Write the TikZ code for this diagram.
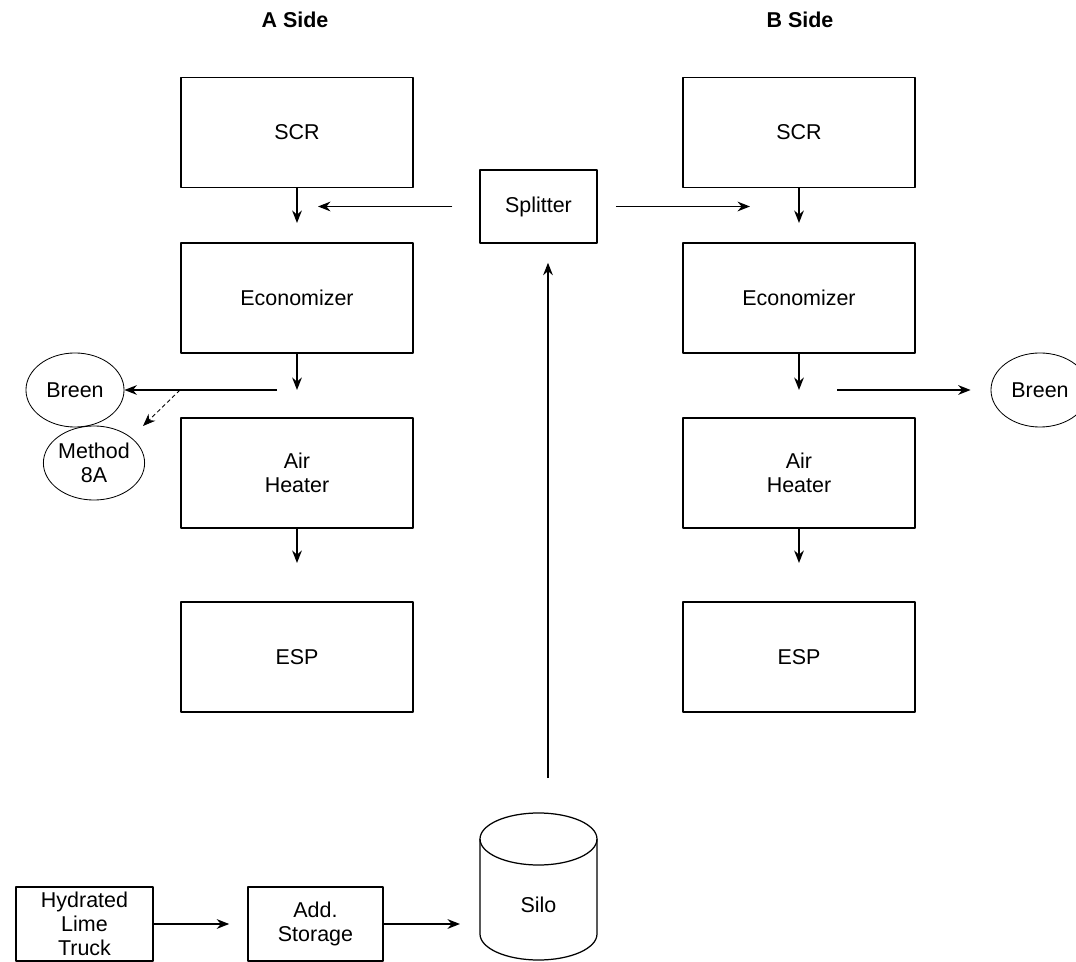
\documentclass[tikz,border=0pt]{standalone}
\usepackage{fontspec}
\setmainfont{Liberation Sans}
\usetikzlibrary{arrows.meta,shapes.geometric}
\tikzset{
  unitbox/.style={draw,line width=1.1pt,minimum width=2.32in,minimum height=1.1in,align=center},
  smallbox/.style={draw,line width=1.1pt,inner sep=0pt,align=center},
  sampler/.style={draw,ellipse,line width=0.6pt,minimum width=0.98in,minimum height=0.74in,inner sep=0pt,align=center},
  flow/.style={->,line width=1.1pt},
}
\begin{document}
\begin{tikzpicture}[x=0.01in,y=0.01in,>={Stealth[length=9pt,width=7pt]},line join=round,font=\fontsize{15.5}{17.5}\selectfont]
\useasboundingbox (0,0) rectangle (1076,961);
% side headings
\node[font=\fontsize{15.5}{17.5}\selectfont\bfseries] (sideA) at (295,941) {A Side};
\node[font=\fontsize{15.5}{17.5}\selectfont\bfseries] (sideB) at (800,941) {B Side};
% A side train
\node[unitbox] (scrA) at (297,828.5) {SCR};
\node[unitbox] (ecoA) at (297,663) {Economizer};
\node[unitbox] (ahA) at (297,488) {Air\\Heater};
\node[unitbox] (espA) at (297,304) {ESP};
% B side train
\node[unitbox] (scrB) at (799,828.5) {SCR};
\node[unitbox] (ecoB) at (799,663) {Economizer};
\node[unitbox] (ahB) at (799,488) {Air\\Heater};
\node[unitbox] (espB) at (799,304) {ESP};
% splitter and samplers
\node[smallbox,minimum width=1.17in,minimum height=0.73in] (split) at (538.5,754.5) {Splitter};
\node[sampler] (breenA) at (75,571) {Breen};
\node[sampler] (m8A) at (94,498) {Method\\8A};
\node[sampler] (breenB) at (1040,571) {Breen};
% lime supply
\node[smallbox,minimum width=1.37in,minimum height=0.74in] (truck) at (84.5,37) {Hydrated\\Lime\\Truck};
\node[smallbox,minimum width=1.35in,minimum height=0.74in] (store) at (315.5,37) {Add.\\Storage};
\draw[line width=0.9pt] (480,122) -- (480,27) arc[start angle=180,end angle=360,x radius=58.5,y radius=26] -- (597,122);
\draw[line width=0.9pt] (538.5,122) ellipse[x radius=58.5,y radius=26];
\node (silo) at (538.5,56) {Silo};
% free ends
\coordinate (tipA1) at (297,738); \coordinate (tipA2) at (297,571); \coordinate (tipA3) at (297,398);
\coordinate (tipB1) at (799,738); \coordinate (tipB2) at (799,571); \coordinate (tipB3) at (799,398);
\coordinate (sA1) at (318,754.5); \coordinate (sB1) at (750,754.5);
\coordinate (bA0) at (277,571); \coordinate (bB0) at (837,571);
\coordinate (dA0) at (180,571); \coordinate (dA1) at (143,535);
\coordinate (siloTop) at (548,183); \coordinate (siloIn) at (460,37);
% flue gas
\draw[flow] (scrA) -- (tipA1);
\draw[flow] (ecoA) -- (tipA2);
\draw[flow] (ahA) -- (tipA3);
\draw[flow] (scrB) -- (tipB1);
\draw[flow] (ecoB) -- (tipB2);
\draw[flow] (ahB) -- (tipB3);
% sorbent
\draw[flow,shorten <=19.4pt] (split) -- (sA1);
\draw[flow,shorten <=13pt] (split) -- (sB1);
\draw[flow,shorten >=13.7pt] (siloTop) -- (siloTop |- split.south);
\draw[flow,shorten >=13pt] (truck) -- (store);
\draw[flow] (store) -- (siloIn);
% sampling
\draw[flow] (bA0) -- (breenA);
\draw[->,line width=0.6pt,dash pattern=on 3pt off 2pt] (dA0) -- (dA1);
\draw[flow,shorten >=14.4pt] (bB0) -- (breenB);
\end{tikzpicture}
\end{document}
